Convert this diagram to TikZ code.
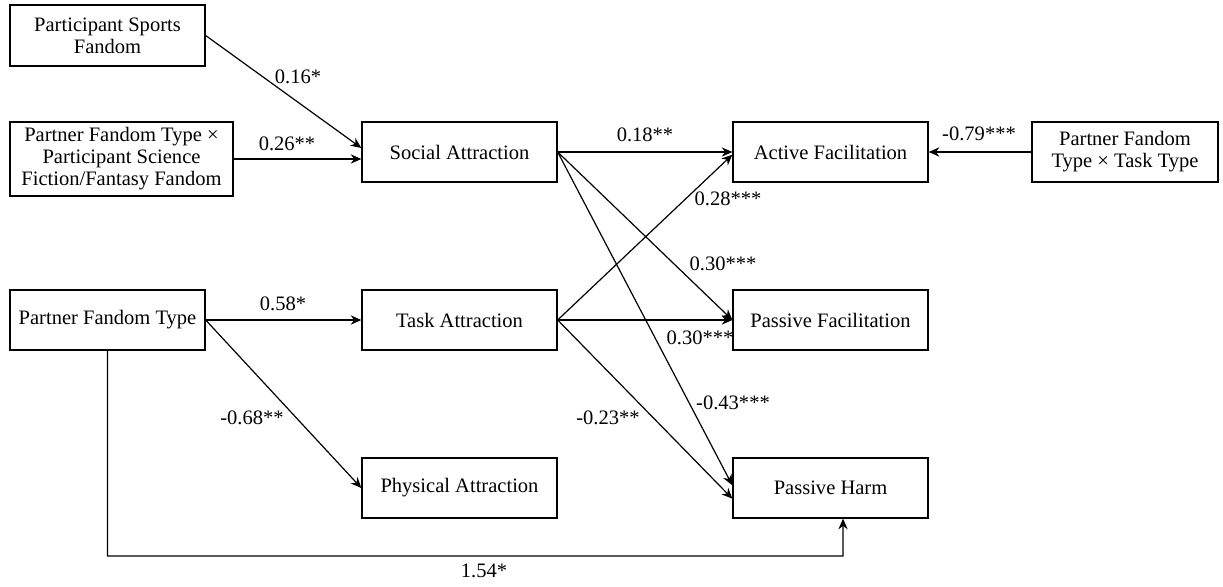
\documentclass[tikz,border=0pt]{standalone}
\usepackage{fontspec}
\setmainfont{Liberation Serif}
\usetikzlibrary{arrows.meta,calc}
\begin{document}
\begin{tikzpicture}[x=0.75pt,y=-0.75pt,
  every node/.style={font=\fontsize{15.4}{16.5}\selectfont},
  box/.style={draw,line width=1pt,inner sep=0pt,align=center,minimum width=146.25pt,minimum height=45pt},
  arr/.style={line width=0.9pt,-{Stealth[length=8pt,width=7pt]}},
  lab/.style={inner sep=0pt}]
\useasboundingbox (0,0) rectangle (1223,586);
% boxes
\node[box,minimum height=45.75pt] (sports) at (107.5,35.5) {Participant Sports\\Fandom};
\node[box,minimum width=167.25pt,minimum height=55.5pt] (pfsf) at (121.5,159) {Partner Fandom Type ×\\Participant Science\\Fiction/Fantasy Fandom};
\node[box] (social) at (459.5,152) {Social Attraction};
\node[box] (active) at (830.5,152) {Active Facilitation};
\node[box,minimum width=139.5pt] (pftt) at (1125,152) {Partner Fandom\\Type × Task Type};
\node[box] (pft) at (107.5,320) {Partner Fandom Type};
\node[box] (task) at (459.5,320) {Task Attraction};
\node[box] (passfac) at (830.5,320) {Passive Facilitation};
\node[box] (phys) at (459.5,488) {Physical Attraction};
\node[box] (harm) at (830.5,488) {Passive Harm};
% connectors
\draw[arr] (sports.east) -- ([yshift=3pt]social.west);
\draw[arr] (pfsf.east) -- (pfsf.east -| social.west);
\draw[arr] (social.east) -- (active.west);
\draw[arr] (social.east) -- (passfac.west);
\draw[arr] (social.east) -- ([yshift=2pt]harm.west);
\draw[arr] (task.east) -- ([yshift=-2pt]active.west);
\draw[arr] (task.east) -- (passfac.west);
\draw[arr] (task.east) -- ([yshift=-8pt]harm.west);
\draw[arr] (pft.east) -- (task.west);
\draw[arr] (pft.east) -- (phys.west);
\draw[arr] (pftt.west) -- (active.east);
\coordinate (turn) at (843,556);
\coordinate (hc) at ([xshift=9.4pt]harm.south);
\draw[arr] (pft.south) |- (turn) -- (hc);
% labels
\node[lab] (l1) at (298,77) {0.16*};
\node[lab] (l2) at (287,144) {0.26**};
\node[lab] (l3) at (645,135) {0.18**};
\node[lab] (l4) at (728,199) {0.28***};
\node[lab] (l5) at (723,264) {0.30***};
\node[lab] (l6) at (700,338) {0.30***};
\node[lab] (l7) at (733,403) {-0.43***};
\node[lab] (l8) at (608,418) {-0.23**};
\node[lab] (l9) at (283,304) {0.58*};
\node[lab] (l10) at (252,418) {-0.68**};
\node[lab] (l11) at (979,134) {-0.79***};
\node[lab] (l12) at (484,571) {1.54*};
\end{tikzpicture}
\end{document}
